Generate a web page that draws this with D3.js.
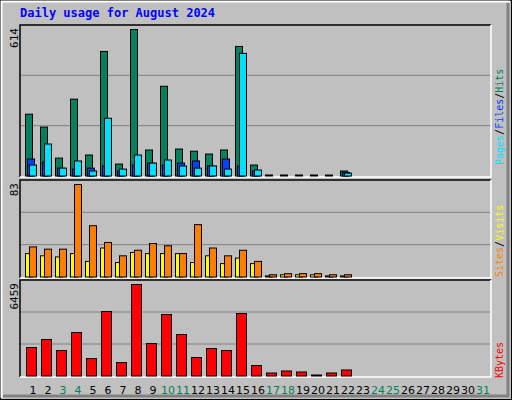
<!DOCTYPE html>
<html><head><meta charset="utf-8">
<script src="https://cdn.jsdelivr.net/npm/d3@7"></script>
<style>body{margin:0;background:#fff}svg{display:block}</style>
</head><body><svg id="c" width="512" height="400"></svg>
<script>
const days = d3.range(1, 32);
const weekend = [3,4,10,11,17,18,24,25,31];
const hits  = [259,205,75,322,88,522,50,614,109,376,113,104,92,109,543,46,1,1,1,1,1,21,0,0,0,0,0,0,0,0,0];
const files = [71,58,33,29,33,42,21,46,54,46,54,63,42,71,42,21,0,0,0,0,0,15,0,0,0,0,0,0,0,0,0];
const pages = [46,134,33,63,21,242,29,88,54,67,42,33,42,29,514,25,0,0,0,0,0,12,0,0,0,0,0,0,0,0,0];
const visits= [27,25,25,83,46,31,19,24,30,28,21,47,26,19,24,14,2,3,3,3,2,2,0,0,0,0,0,0,0,0,0];
const sites = [21,19,18,21,14,26,13,22,21,21,21,13,19,12,17,12,1,2,2,2,1,1,0,0,0,0,0,0,0,0,0];
const kbytes= [2008,2573,1796,3068,1230,4553,947,6459,2290,4341,2927,1301,1937,1796,4411,735,212,353,283,71,212,424,0,0,0,0,0,0,0,0,0];

const svg = d3.select("#c");
svg.append("rect").attr("width",512).attr("height",400).attr("fill","#c0c0c0");
// 3D frame
svg.append("rect").attr("x",0.5).attr("y",0.5).attr("width",511).attr("height",399).attr("fill","none").attr("stroke","#000");
svg.append("path").attr("d","M1.5,398V1.5H510").attr("stroke","#fff").attr("fill","none").attr("stroke-width",2);
svg.append("path").attr("d","M508,3V396H3").attr("stroke","#808080").attr("fill","none").attr("stroke-width",3);

svg.append("text").attr("x",20).attr("y",17).text("Daily usage for August 2024")
  .attr("fill","#0000ff").attr("font-family","DejaVu Sans Mono").attr("font-weight","bold").attr("font-size",12);

const x = d3.scaleLinear().domain([1,31]).range([33,483]);
const L=20, R=491;

function panel(top, base, max, label){
  const y = d3.scaleLinear().domain([0,max]).range([base, top+4.5]);
  const h = base-top;
  [1,2].forEach(i=>svg.append("line").attr("x1",L).attr("x2",R).attr("y1",top+h*i/3).attr("y2",top+h*i/3).attr("stroke","#808080"));
  svg.append("path").attr("d",`M${L},${base+1}V${top}H${R}`).attr("stroke","#000").attr("fill","none").attr("stroke-width",1.5);
  svg.append("path").attr("d",`M${R},${top}V${base+1}H${L}`).attr("stroke","#fff").attr("fill","none").attr("stroke-width",1.5);
  svg.append("text").attr("transform",`translate(18,${top+3}) rotate(-90)`).attr("text-anchor","end")
    .text(label).attr("font-family","DejaVu Sans Mono").attr("font-size",11).attr("fill","#000");
  return y;
}
function bars(vals, y, off, w, color){
  svg.append("g").selectAll("rect").data(vals).join("rect")
    .attr("x",(d,i)=>x(i+1)+off).attr("width",w)
    .attr("y",d=>Math.min(y(d), y(0)-1)).attr("height",d=>Math.max(1, y(0)-y(d)))
    .attr("fill",color).attr("stroke","#000").attr("stroke-width",1)
    .attr("display",d=>d>0?null:"none");
}
const y1 = panel(25,176,614,"614");
bars(hits,y1,-7.5,7,"#00805c");
bars(files,y1,-5.5,7,"#0040ff");
bars(pages,y1,-3.5,7,"#00e0ff");
const y2 = panel(180,277,83,"83");
bars(sites,y2,-7.5,7,"#ffff00");
bars(visits,y2,-3.5,7,"#ff8000");
const y3 = panel(280,376,6459,"6459");
bars(kbytes,y3,-6.5,10,"#ff0000");

svg.append("g").selectAll("text").data(days).join("text")
  .attr("x",d=>x(d)).attr("y",394).attr("text-anchor","middle").text(d=>d)
  .attr("font-family","DejaVu Sans").attr("font-size",11)
  .attr("fill",d=>weekend.includes(d)?"#00805c":"#000");

function vlabel(yBottom, parts){
  const t = svg.append("text").attr("transform",`translate(503,${yBottom}) rotate(-90)`)
    .attr("font-family","DejaVu Sans Mono").attr("font-size",10);
  parts.forEach(p=>t.append("tspan").text(p[0]).attr("fill",p[1]));
}
vlabel(165,[["Pages","#00e0ff"],["/","#000"],["Files","#0040ff"],["/","#000"],["Hits","#00805c"]]);
vlabel(277,[["Sites","#ff8000"],["/","#000"],["Visits","#ffff00"]]);
vlabel(378,[["KBytes","#ff0000"]]);
</script></body></html>
